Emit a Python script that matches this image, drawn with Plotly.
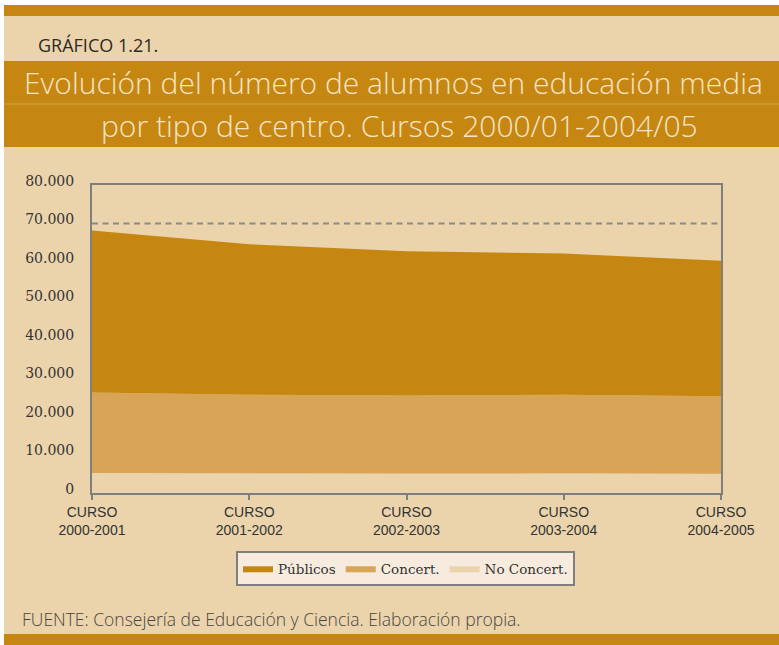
import plotly.graph_objects as go

# ---- data ----
cursos = ["CURSO<br>2000-2001", "CURSO<br>2001-2002", "CURSO<br>2002-2003",
          "CURSO<br>2003-2004", "CURSO<br>2004-2005"]
no_concert = [5200, 5100, 5050, 5100, 5000]
concert = [20900, 20400, 20250, 20400, 20100]
publicos = [42100, 39100, 37500, 36700, 35200]
reference_line = 70000
y_ticks = [0, 10000, 20000, 30000, 40000, 50000, 60000, 70000, 80000]

W, H = 779, 645
L, R, T, B = 92, 58, 185, 152
PW, PH = W - L - R, H - T - B


def px(x):
    return (x - L) / PW


def py(y):
    return (H - B - y) / PH


ORANGE = "#C58712"
BEIGE = "#EBD3AB"
LIGHT = "#F7EBDD"
GRAY = "#7F7F7F"

fig = go.Figure()
fig.add_trace(go.Scatter(x=cursos, y=no_concert, name="No Concert.", stackgroup="one",
                         mode="lines", line=dict(width=0, color="#EDD6B0"),
                         fillcolor="#EBD3AB", legendrank=3))
fig.add_trace(go.Scatter(x=cursos, y=concert, name="Concert.", stackgroup="one",
                         mode="lines", line=dict(width=0, color="#D8A556"),
                         fillcolor="#D8A556", legendrank=2))
fig.add_trace(go.Scatter(x=cursos, y=publicos, name="Públicos", stackgroup="one",
                         mode="lines", line=dict(width=0, color=ORANGE),
                         fillcolor=ORANGE, legendrank=1))

shapes = [
    # beige page
    dict(type="rect", xref="paper", yref="paper", x0=px(4), x1=px(W), y0=py(645), y1=py(5),
         fillcolor=BEIGE, line_width=0, layer="below"),
    # top bar
    dict(type="rect", xref="paper", yref="paper", x0=px(4), x1=px(W), y0=py(16), y1=py(5),
         fillcolor=ORANGE, line_width=0, layer="below"),
    # bottom bar
    dict(type="rect", xref="paper", yref="paper", x0=px(4), x1=px(W), y0=py(645), y1=py(634),
         fillcolor=ORANGE, line_width=0, layer="below"),
    # title band
    dict(type="rect", xref="paper", yref="paper", x0=px(4), x1=px(W), y0=py(147), y1=py(61),
         fillcolor=ORANGE, line_width=0, layer="below"),
    dict(type="line", xref="paper", yref="paper", x0=px(4), x1=px(W), y0=py(104), y1=py(104),
         line=dict(color="#D6A04A", width=1), layer="below"),
    # reference dashed line
    dict(type="line", xref="paper", yref="y", x0=0, x1=0.995, y0=reference_line, y1=reference_line,
         line=dict(color="#8A8A8A", width=2, dash="6px,4.5px"), layer="above"),
]

TITLE_FONT = dict(family="Open Sans", size=30, color="#F5E4C6", weight=300)
annotations = [
    dict(text="GRÁFICO 1.21.", x=px(36), y=py(45), xref="paper", yref="paper",
         xanchor="left", yanchor="middle", showarrow=False,
         font=dict(family="Open Sans", size=18, color="#2E2A26")),
    dict(text="Evolución del número de alumnos en educación media", x=px(393), y=py(83),
         xref="paper", yref="paper", xanchor="center", yanchor="middle", showarrow=False,
         font=TITLE_FONT),
    dict(text="por tipo de centro. Cursos 2000/01-2004/05", x=px(399), y=py(125),
         xref="paper", yref="paper", xanchor="center", yanchor="middle", showarrow=False,
         font=TITLE_FONT),
    dict(text="FUENTE: Consejería de Educación y Ciencia. Elaboración propia.", x=px(20), y=py(619),
         xref="paper", yref="paper", xanchor="left", yanchor="middle", showarrow=False,
         font=dict(family="Open Sans", size=17.5, color="#4A4540", weight=300)),
]

fig.update_layout(
    width=W, height=H,
    margin=dict(l=L, r=R, t=T, b=B, pad=0),
    paper_bgcolor="white",
    plot_bgcolor=LIGHT,
    separators=",.",
    shapes=shapes,
    annotations=annotations,
    showlegend=True,
    legend=dict(orientation="h", traceorder="normal", x=px(405.5), xanchor="center",
                y=py(551), yanchor="top",
                bgcolor=LIGHT, bordercolor=GRAY, borderwidth=2,
                font=dict(family="DejaVu Serif", size=13.5, color="#333333"),
                itemwidth=30),
    xaxis=dict(range=[0, 4], showgrid=False, zeroline=False, showline=True, linecolor=GRAY,
               linewidth=2, mirror=True, ticks="outside", ticklen=5, tickcolor=GRAY, tickwidth=2,
               tickfont=dict(family="Liberation Sans", size=14, color="#333333")),
    yaxis=dict(range=[0, 80000], tickvals=y_ticks, tickformat=",d", showgrid=False, zeroline=False,
               showline=True, linecolor=GRAY, linewidth=2, mirror=True, ticks="",
               ticklabelstandoff=13, ticklabelshift=-4,
               tickfont=dict(family="DejaVu Serif", size=14, color="#333333")),
)

fig.write_html("out.html", config={"displayModeBar": False},
               post_script="document.body.style.margin='0';")
